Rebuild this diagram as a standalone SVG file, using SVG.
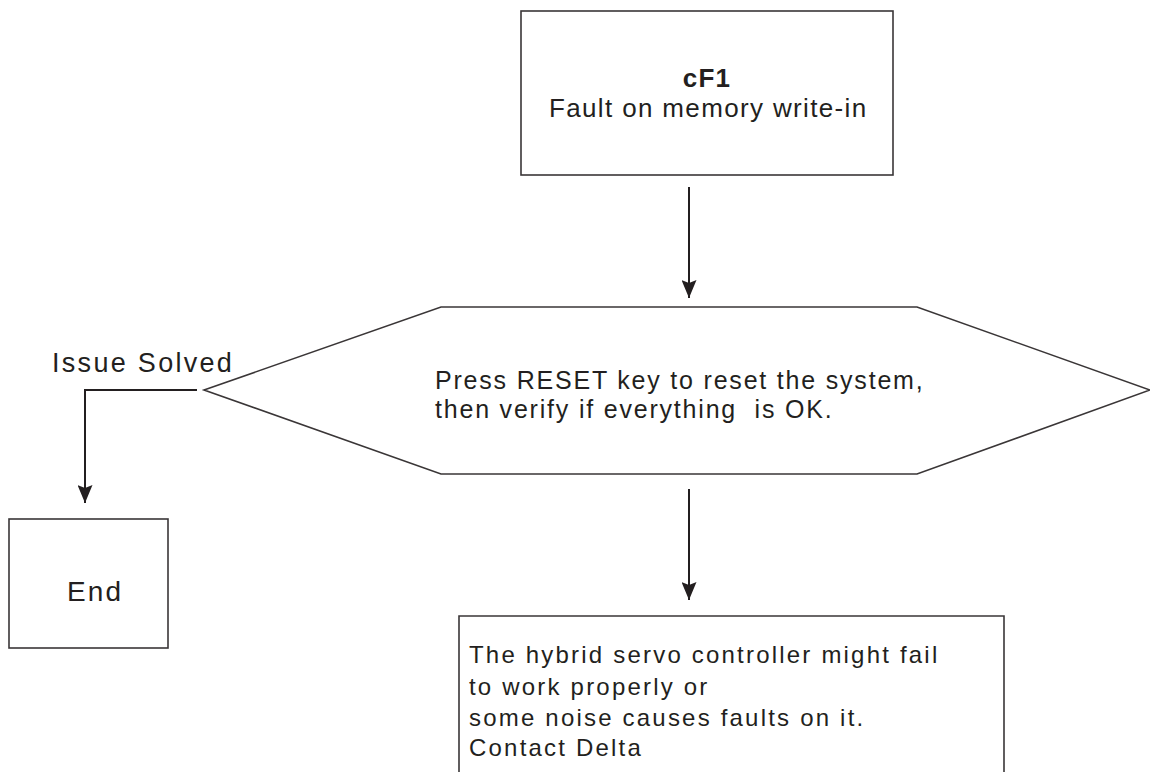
<svg xmlns="http://www.w3.org/2000/svg" width="1150" height="772" viewBox="0 0 1150 772">
  <style>
    .box { fill: #ffffff; stroke: #3a3637; stroke-width: 1.6; }
    .conn { fill: none; stroke: #231f20; stroke-width: 2; }
    .t { font-family: "Liberation Sans", Arial, sans-serif; fill: #231f20; }
  </style>
  <defs>
    <marker id="arrow" viewBox="0 0 18 15" refX="18" refY="7.5" markerWidth="18" markerHeight="15" markerUnits="userSpaceOnUse" orient="auto">
      <path d="M0,0 L18,7.5 L0,15 L3,7.5 z" fill="#231f20"/>
    </marker>
  </defs>
  <rect width="1150" height="772" fill="#ffffff"/>

  <g id="node-cf1">
    <rect class="box" x="521" y="11" width="372" height="164"/>
    <text class="t" x="707" y="87" text-anchor="middle" font-size="26" font-weight="bold" letter-spacing="1.3">cF1</text>
    <text class="t" x="549" y="117" font-size="26" letter-spacing="1.35">Fault on memory write-in</text>
  </g>

  <g id="node-reset">
    <polygon class="box" points="204,390 441,307 917,307 1150,390 917,474 441,474"/>
    <text class="t" x="435" y="389" font-size="25" letter-spacing="1.8">Press RESET key to reset the system,</text>
    <text class="t" x="435" y="418" font-size="25" letter-spacing="1.8" style="white-space:pre" xml:space="preserve">then verify if everything  is OK.</text>
  </g>

  <g id="node-end">
    <rect class="box" x="9" y="519" width="159" height="129"/>
    <text class="t" x="67" y="601" font-size="28" letter-spacing="2.1">End</text>
  </g>

  <g id="node-contact">
    <path class="box" d="M459,780 L459,616 L1004,616 L1004,780"/>
    <text class="t" x="469" y="663" font-size="24" letter-spacing="2.2">The hybrid servo controller might fail</text>
    <text class="t" x="469" y="695" font-size="24" letter-spacing="2.2">to work properly or</text>
    <text class="t" x="469" y="726" font-size="24" letter-spacing="2.2">some noise causes faults on it.</text>
    <text class="t" x="469" y="756" font-size="24" letter-spacing="2.2">Contact Delta</text>
  </g>

  <g id="connectors">
    <line class="conn" x1="689" y1="187" x2="689" y2="298" marker-end="url(#arrow)"/>
    <line class="conn" x1="689" y1="489" x2="689" y2="600" marker-end="url(#arrow)"/>
    <polyline class="conn" points="197,390 85,390 85,503" marker-end="url(#arrow)"/>
    <text class="t" x="52" y="372" font-size="27" letter-spacing="2.3">Issue Solved</text>
  </g>
</svg>
